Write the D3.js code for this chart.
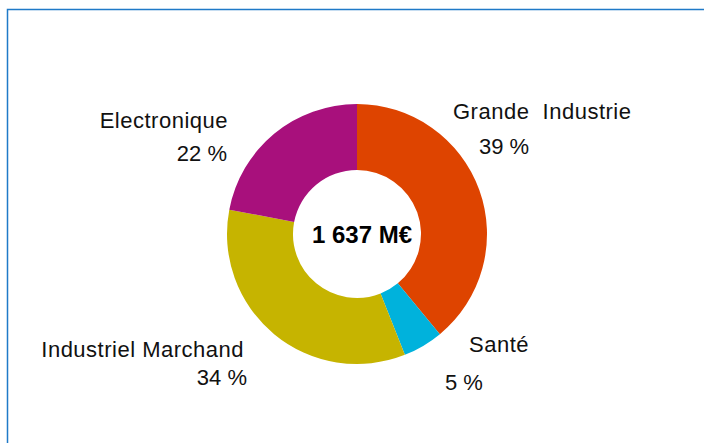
<!DOCTYPE html>
<html>
<head>
<meta charset="utf-8">
<script src="https://cdn.jsdelivr.net/npm/d3@7"></script>
<style>
  html, body { margin: 0; padding: 0; background: #fff; }
  svg { display: block; }
</style>
</head>
<body>
<div id="chart"></div>
<script>
// chart data
var categories = ["Grande  Industrie", "Santé", "Industriel Marchand", "Electronique"];
var percents = [39, 5, 34, 22];
var colors = ["#de4400", "#00b2dc", "#c6b400", "#a8107c"];
var totalLabel = "1 637 M€";

// label anchor points
var labelPos = [
  {name: [453, 119], pct: [479, 154], anchor: "start"},
  {name: [469, 352], pct: [445, 390], anchor: "start"},
  {name: [244, 357], pct: [247, 385], anchor: "end"},
  {name: [228, 128], pct: [227, 161], anchor: "end"}
];

var width = 704, height = 443;
var cx = 357, cy = 234, outerR = 130, innerR = 64;

var svg = d3.select("#chart")
  .append("svg")
    .attr("width", width)
    .attr("height", height);

// frame (runs off the right and bottom of the picture)
svg.append("rect")
  .attr("x", 7.5)
  .attr("y", 9.5)
  .attr("width", 720)
  .attr("height", 460)
  .attr("fill", "none")
  .attr("stroke", "#1f7ac8")
  .attr("stroke-width", 1.5);

var pie = d3.pie().sort(null).value(function(d) { return d; });
var arc = d3.arc().innerRadius(innerR).outerRadius(outerR);

var g = svg.append("g")
  .attr("transform", "translate(" + cx + "," + cy + ")");

g.selectAll("path")
  .data(pie(percents))
  .enter().append("path")
    .attr("d", arc)
    .attr("fill", function(d, i) { return colors[i]; });

// centre total
g.append("text")
  .attr("text-anchor", "middle")
  .attr("x", 5)
  .attr("y", 9)
  .style("font", "bold 24px 'Liberation Sans', Arial, sans-serif")
  .attr("fill", "#000")
  .text(totalLabel);

var labels = svg.append("g")
  .style("font", "22px 'Liberation Sans', Arial, sans-serif")
  .attr("fill", "#111");

categories.forEach(function(c, i) {
  var p = labelPos[i];
  labels.append("text")
    .attr("x", p.name[0]).attr("y", p.name[1])
    .attr("text-anchor", p.anchor)
    .style("white-space", "pre")
    .style("letter-spacing", "0.5px")
    .attr("xml:space", "preserve")
    .text(c);
  labels.append("text")
    .attr("x", p.pct[0]).attr("y", p.pct[1])
    .attr("text-anchor", p.anchor)
    .text(percents[i] + " %");
});
</script>
</body>
</html>
